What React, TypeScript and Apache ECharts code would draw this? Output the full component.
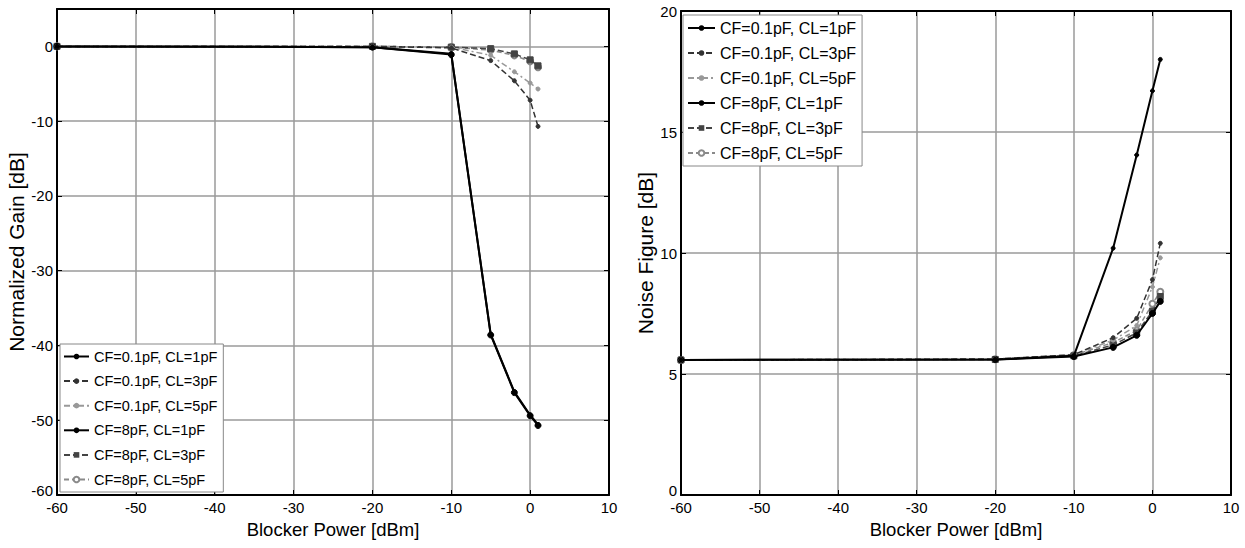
import React, { useEffect, useRef } from "react";
import * as echarts from "echarts";

// ---------- data ----------
const blockerPower = [-60, -20, -10, -5, -2, 0, 1];

const seriesNames = [
  "CF=0.1pF, CL=1pF",
  "CF=0.1pF, CL=3pF",
  "CF=0.1pF, CL=5pF",
  "CF=8pF, CL=1pF",
  "CF=8pF, CL=3pF",
  "CF=8pF, CL=5pF",
];

// Normalized gain [dB]
const gain_cf01_cl1 = [0, -0.1, -1.0, -38.5, -46.2, -49.3, -50.6];
const gain_cf01_cl3 = [0, 0, -0.2, -1.9, -4.6, -7.2, -10.7];
const gain_cf01_cl5 = [0, 0, -0.1, -1.2, -3.4, -4.9, -5.7];
const gain_cf8_cl1 = [0, -0.1, -1.1, -38.6, -46.3, -49.4, -50.7];
const gain_cf8_cl3 = [0, 0, -0.1, -0.3, -1.0, -1.8, -2.6];
const gain_cf8_cl5 = [0, 0, -0.1, -0.5, -1.2, -2.0, -2.8];

// Noise figure [dB]
const nf_cf01_cl1 = [5.58, 5.6, 5.75, 10.2, 14.05, 16.7, 18.0];
const nf_cf01_cl3 = [5.58, 5.62, 5.8, 6.5, 7.3, 8.9, 10.4];
const nf_cf01_cl5 = [5.58, 5.62, 5.8, 6.4, 7.0, 8.6, 9.8];
const nf_cf8_cl1 = [5.58, 5.6, 5.72, 6.1, 6.6, 7.5, 8.0];
const nf_cf8_cl3 = [5.58, 5.6, 5.75, 6.2, 6.7, 7.6, 8.2];
const nf_cf8_cl5 = [5.58, 5.61, 5.78, 6.3, 6.8, 7.9, 8.4];

const gainData = [gain_cf01_cl1, gain_cf01_cl3, gain_cf01_cl5, gain_cf8_cl1, gain_cf8_cl3, gain_cf8_cl5];
const nfData = [nf_cf01_cl1, nf_cf01_cl3, nf_cf01_cl5, nf_cf8_cl1, nf_cf8_cl3, nf_cf8_cl5];

// ---------- styles ----------
const FONT = "'Liberation Sans', Arial, sans-serif";

const styles = [
  { color: "#000000", type: "solid", width: 2, symbol: "circle", size: 4 },
  { color: "#333333", type: [6, 3], width: 1.5, symbol: "circle", size: 4 },
  { color: "#999999", type: [6, 3, 2, 3], width: 1.5, symbol: "circle", size: 4 },
  { color: "#000000", type: "solid", width: 2, symbol: "circle", size: 6 },
  { color: "#444444", type: [6, 3], width: 1.5, symbol: "rect", size: 6 },
  { color: "#8a8a8a", type: [5, 3], width: 1.5, symbol: "emptyCircle", size: 6 },
];

function makeSeries(data: number[][], axisIndex: number) {
  return data.map((vals, i) => ({
    name: seriesNames[i],
    type: "line",
    xAxisIndex: axisIndex,
    yAxisIndex: axisIndex,
    data: blockerPower.map((x, k) => [x, vals[k]]),
    symbol: styles[i].symbol,
    symbolSize: styles[i].size,
    showAllSymbol: true,
    lineStyle: { color: styles[i].color, type: styles[i].type as any, width: styles[i].width },
    itemStyle: { color: styles[i].color, borderColor: styles[i].color },
    z: 10 - i,
  }));
}

function xAxisMain(gridIndex: number) {
  return {
    type: "value",
    gridIndex,
    min: -60,
    max: 10,
    interval: 10,
    name: "Blocker Power [dBm]",
    nameLocation: "middle",
    nameGap: 24,
    nameTextStyle: { fontFamily: FONT, fontSize: 18.5, color: "#000" },
    axisLine: { show: true, onZero: false, lineStyle: { color: "#000", width: 2 } },
    axisTick: { show: true, inside: true, length: 5, lineStyle: { color: "#000" } },
    axisLabel: { fontFamily: FONT, fontSize: 15, color: "#000", margin: 5 },
    splitLine: { show: true, lineStyle: { color: "#9a9a9a", width: 1.5 } },
  };
}

function xAxisTop(gridIndex: number) {
  return {
    type: "value",
    gridIndex,
    position: "top",
    min: -60,
    max: 10,
    interval: 10,
    axisLine: { show: true, onZero: false, lineStyle: { color: "#000", width: 2 } },
    axisTick: { show: true, inside: true, length: 5, lineStyle: { color: "#000" } },
    axisLabel: { show: false },
    splitLine: { show: false },
  };
}

function yAxisRight(gridIndex: number, min: number, max: number, interval: number) {
  return {
    type: "value",
    gridIndex,
    position: "right",
    min,
    max,
    interval,
    axisLine: { show: true, onZero: false, lineStyle: { color: "#000", width: 2 } },
    axisTick: { show: true, inside: true, length: 5, lineStyle: { color: "#000" } },
    axisLabel: { show: false },
    splitLine: { show: false },
  };
}

function yLabel(minValue: number) {
  return {
    fontFamily: FONT,
    fontSize: 15,
    color: "#000",
    margin: 4,
    formatter: (v: number) => (v === minValue ? `{lo|${v}}` : `${v}`),
    rich: { lo: { fontFamily: FONT, fontSize: 15, color: "#000", padding: [0, 0, 10, 0] } },
  };
}

export default function App() {
  const ref = useRef<HTMLDivElement>(null);

  useEffect(() => {
    if (!ref.current) return;
    const chart = echarts.init(ref.current, null, { renderer: "svg" });

    const legendCommon = {
      orient: "vertical",
      backgroundColor: "#ffffff",
      borderColor: "#888888",
      borderWidth: 1,
      itemWidth: 25,
      itemHeight: 7,
      selectedMode: false,
      data: seriesNames,
    };

    chart.setOption({
      animation: false,
      backgroundColor: "#ffffff",
      grid: [
        { left: 57, top: 9, width: 552, height: 486, show: false },
        { left: 681, top: 11, width: 550, height: 484, show: false },
      ],
      xAxis: [xAxisMain(0), xAxisMain(1), xAxisTop(0), xAxisTop(1)],
      yAxis: [
        {
          type: "value",
          gridIndex: 0,
          min: -60,
          max: 5,
          interval: 10,
          name: "Normalized Gain [dB]",
          nameLocation: "middle",
          nameGap: 25,
          nameTextStyle: { fontFamily: FONT, fontSize: 21, color: "#000" },
          axisLine: { show: true, onZero: false, lineStyle: { color: "#000", width: 2 } },
          axisTick: { show: true, inside: true, length: 5, lineStyle: { color: "#000" } },
          axisLabel: { ...yLabel(-60), showMaxLabel: false },
          splitLine: { show: true, lineStyle: { color: "#9a9a9a", width: 1.5 } },
        },
        {
          type: "value",
          gridIndex: 1,
          min: 0,
          max: 20,
          interval: 5,
          name: "Noise Figure [dB]",
          nameLocation: "middle",
          nameGap: 22,
          nameTextStyle: { fontFamily: FONT, fontSize: 21, color: "#000" },
          axisLine: { show: true, onZero: false, lineStyle: { color: "#000", width: 2 } },
          axisTick: { show: true, inside: true, length: 5, lineStyle: { color: "#000" } },
          axisLabel: yLabel(0),
          splitLine: { show: true, lineStyle: { color: "#9a9a9a", width: 1.5 } },
        },
        yAxisRight(0, -60, 5, 10),
        yAxisRight(1, 0, 20, 5),
      ],
      legend: [
        {
          ...legendCommon,
          left: 60,
          top: 344,
          padding: [5, 6, 5, 3],
          itemGap: 9.6,
          textStyle: { fontFamily: FONT, fontSize: 14.5, lineHeight: 15, color: "#000" },
        },
        {
          ...legendCommon,
          left: 683,
          top: 15,
          padding: [5, 6, 5, 4],
          itemWidth: 27,
          itemGap: 9,
          textStyle: { fontFamily: FONT, fontSize: 16, lineHeight: 16, color: "#000" },
        },
      ],
      series: [...makeSeries(gainData, 0), ...makeSeries(nfData, 1)],
    });

    return () => chart.dispose();
  }, []);

  return (
    <div
      ref={ref}
      style={{ position: "fixed", left: 0, top: 0, width: 1245, height: 548, background: "#fff" }}
    />
  );
}
